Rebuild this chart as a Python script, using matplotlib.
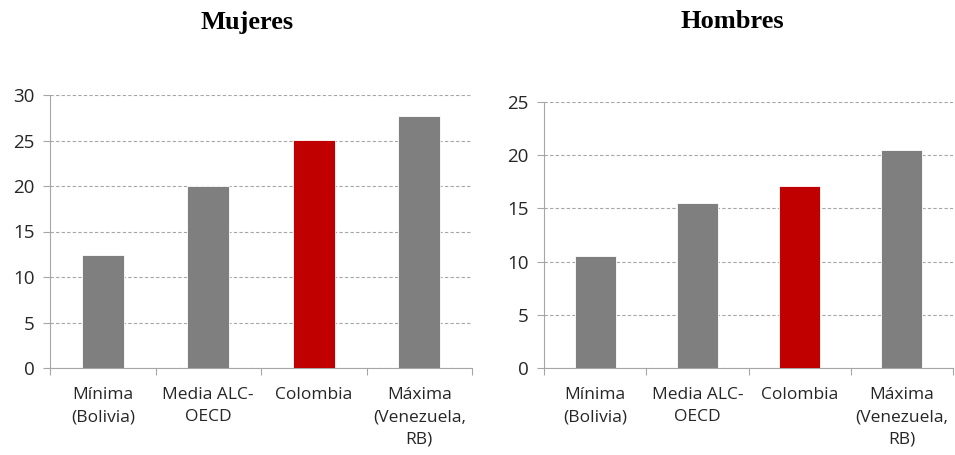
import matplotlib
matplotlib.use("Agg")
import matplotlib.pyplot as plt
import numpy as np

categories = ["Mínima\n(Bolivia)", "Media ALC-\nOECD", "Colombia", "Máxima\n(Venezuela,\nRB)"]
mujeres = [12.45, 20.0, 25.05, 27.7]
hombres = [10.5, 15.5, 17.1, 20.5]
bar_colors = ["#7f7f7f", "#7f7f7f", "#c00000", "#7f7f7f"]

fig = plt.figure(figsize=(9.55, 4.55), dpi=100)
W, H = 955, 455


def panel(rect, values, ymax, title, title_x):
    ax = fig.add_axes([rect[0] / W, 1 - rect[3] / H, (rect[2] - rect[0]) / W, (rect[3] - rect[1]) / H])
    x = np.arange(len(values))
    ax.bar(x, values, width=0.4, color=bar_colors, edgecolor="white", linewidth=0.6, zorder=3)
    ax.set_xlim(-0.5, len(values) - 0.5)
    ax.set_ylim(0, ymax)
    ax.set_yticks(np.arange(0, ymax + 1, 5))
    ax.yaxis.grid(True, linestyle=(0, (3, 2)), color="#a6a6a6", linewidth=0.8, zorder=0)
    ax.set_xticks(np.arange(-0.5, len(values), 1.0))
    ax.set_xticklabels([])
    ax.set_xticks(x, minor=True)
    ax.set_xticklabels(categories, minor=True, fontsize=12.5, family="Open Sans",
                       color="#262626", linespacing=1.5)
    ax.tick_params(axis="x", which="major", length=5, color="#a6a6a6", width=0.8)
    ax.tick_params(axis="x", which="minor", length=0, pad=14)
    ax.tick_params(axis="y", length=5, color="#a6a6a6", width=0.8, labelsize=13.5,
                   labelcolor="#262626", pad=6)
    for lab in ax.get_yticklabels():
        lab.set_family("Open Sans")
    for s in ["top", "right"]:
        ax.spines[s].set_visible(False)
    for s in ["left", "bottom"]:
        ax.spines[s].set_color("#a6a6a6")
        ax.spines[s].set_linewidth(0.8)
    fig.text(title_x / W, 1 - 22 / H, title, ha="center", va="center",
             fontsize=19, fontweight="bold", family="Liberation Serif")
    return ax


panel((50, 95, 472, 368), mujeres, 30, "Mujeres", 247)
panel((544, 102, 953, 368), hombres, 25, "Hombres", 732)

fig.savefig("out.png", dpi=100)
